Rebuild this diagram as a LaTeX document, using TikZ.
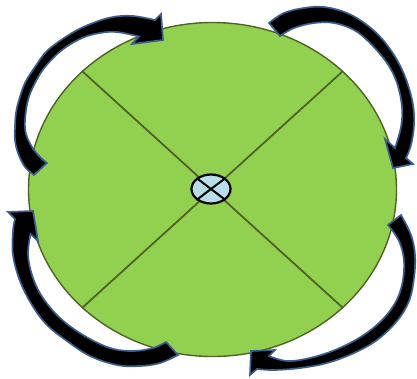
\documentclass[tikz,border=0pt]{standalone}
\usetikzlibrary{shapes.geometric}
\definecolor{leaf}{HTML}{92D050}
\definecolor{olivedark}{HTML}{4F6228}
\definecolor{arrowblue}{HTML}{3A5F8B}
\definecolor{hubblue}{HTML}{B7DEE8}
\begin{document}
\begin{tikzpicture}[x=1pt,y=-1pt,
  curvedarrow/.style={fill=black, draw=arrowblue, line width=1.7pt, line join=miter},
  padshape/.style={ellipse, draw=olivedark, fill=leaf, line width=1.4pt, inner sep=0pt, minimum width=368pt, minimum height=334pt},
  divider/.style={draw=olivedark, line width=1.8pt},
  hubshape/.style={ellipse, draw=black, fill=hubblue, line width=2.2pt, inner sep=0pt, minimum width=39pt, minimum height=29pt},
  hubcross/.style={draw=black, line width=2pt}]
\useasboundingbox (0,0) rectangle (417,378);
% pad
\node[padshape] (pad) at (212.5,189.5) {};
\draw[divider] (pad.north west) -- (pad.south east);
\draw[divider] (pad.north east) -- (pad.south west);
% hub
\node[hubshape] (hub) at (211,189) {};
\draw[hubcross] (hub.north west) -- (hub.south east);
\draw[hubcross] (hub.north east) -- (hub.south west);
% top-left arrow
\path[curvedarrow] (34,175) -- (47,163)
  -- plot[smooth,tension=0.6] coordinates {(47,163) (40,157) (32,147) (26,134) (25,120) (28,100) (35,83) (45,67) (62,50) (82,38) (100,33) (117,32) (139,36.5)}
  -- (132,44) -- (163,40) -- (161,14)
  -- plot[smooth,tension=0.6] coordinates {(155,20) (133,16) (113,17) (93,23) (72,33) (48,50) (35,67) (25,83) (19,100) (16,113) (15,127) (15,140) (18,153) (25,167) (34,175)}
  -- cycle;
% top-right arrow
\path[curvedarrow] (269,23) -- (280,36)
  -- plot[smooth,tension=0.6] coordinates {(280,36) (294,28) (314,23) (334,23) (354,30) (370,43) (387,63) (397,83) (402,107) (401,127) (395,148)}
  -- (385,139) -- (393,168) -- (413,164)
  -- plot[smooth,tension=0.6] coordinates {(406,158) (411,145) (414,125) (413,105) (407,82) (397,60) (383,40) (367,25) (347,13) (324,7) (304,8) (284,13) (269,23)}
  -- cycle;
% bottom-right arrow
\path[curvedarrow] (388,225) -- (401,215)
  -- plot[smooth,tension=0.6] coordinates {(401,215) (411,235) (415,255) (414,278) (409,301) (397,321) (377,340) (354,353) (327,363) (300,368) (274,370) (257,369)}
  -- (250,375) -- (251,351) -- (275,350)
  -- plot[smooth,tension=0.6] coordinates {(269,356) (287,361) (310,358) (335,350) (359,338) (379,323) (394,305) (402,285) (404,261) (399,241) (388,225)}
  -- cycle;
% bottom-left arrow
\path[curvedarrow] (166,342) -- (178,355)
  -- plot[smooth,tension=0.6] coordinates {(178,355) (160,363) (140,366) (117,365) (90,356) (67,341) (47,325) (32,305) (20,281) (13,255) (13,231) (15,219)}
  -- (8,212) -- (33,211) -- (38,241)
  -- plot[smooth,tension=0.6] coordinates {(30.5,234) (28,255) (33,278) (43,298) (60,318) (83,335) (110,348) (133,351) (153,348) (166,342)}
  -- cycle;
\end{tikzpicture}
\end{document}
